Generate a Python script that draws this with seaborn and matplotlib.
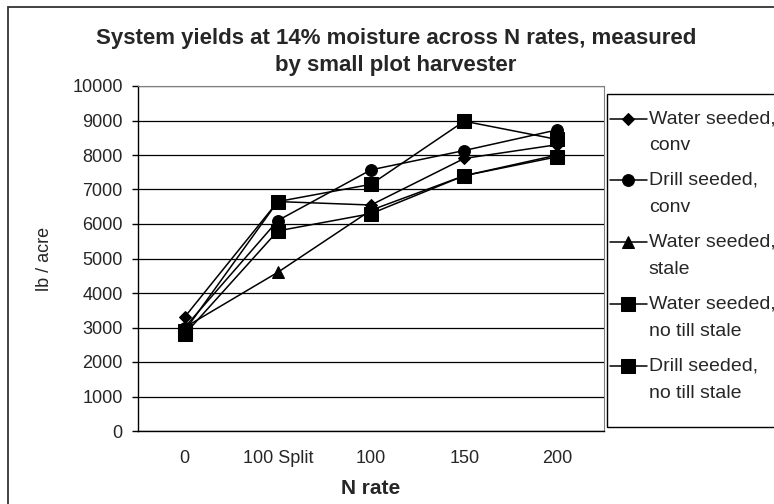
import numpy as np
import pandas as pd
import seaborn as sns
import matplotlib.pyplot as plt
from matplotlib.patches import Rectangle
from matplotlib.legend_handler import HandlerLine2D

# chart values
n_rates = ['0', '100 Split', '100', '150', '200']
water_conv = [3300, 6650, 6550, 7900, 8300]
drill_conv = [3000, 6100, 7570, 8130, 8730]
water_stale = [3000, 4600, 6400, 7400, 8000]
water_notill = [2800, 5800, 6300, 7400, 7950]
drill_notill = [2900, 6650, 7150, 8980, 8450]

series_names = ['Water seeded,\nconv', 'Drill seeded,\nconv', 'Water seeded,\nstale',
                'Water seeded,\nno till stale', 'Drill seeded,\nno till stale']
series_vals = [water_conv, drill_conv, water_stale, water_notill, drill_notill]
markers = ['D', 'o', '^', 's', 's']
msizes = [6.5, 8.5, 8.5, 10.5, 10.5]

rows = []
for name, vals in zip(series_names, series_vals):
    for i, v in enumerate(vals):
        rows.append({'series': name, 'pos': i, 'yield': v})
df = pd.DataFrame(rows)


class FirstLineHandler(HandlerLine2D):
    # put the legend marker beside the first line of a two-line label
    def __init__(self, shift, **kw):
        super().__init__(**kw)
        self.shift = shift

    def create_artists(self, legend, orig_handle, xdescent, ydescent, width, height, fontsize, trans):
        arts = super().create_artists(legend, orig_handle, xdescent, ydescent, width, height, fontsize, trans)
        for a in arts:
            a.set_ydata(np.asarray(a.get_ydata()) + self.shift)
        return arts


sns.set_style('white')
plt.rcParams['font.family'] = ['Liberation Sans', 'DejaVu Sans']

fig = plt.figure(figsize=(7.74, 5.04), dpi=100)
ax = fig.add_axes([138 / 774, 1 - 431 / 504, (604 - 138) / 774, (431 - 86) / 504])

for name, m, ms in zip(series_names, markers, msizes):
    sns.lineplot(data=df[df['series'] == name], x='pos', y='yield', ax=ax,
                 color='black', marker=m, markersize=ms, markeredgecolor='black',
                 linewidth=1.1, label=name)

ax.set_xlim(-0.5, 4.5)
ax.set_ylim(0, 10000)
ax.set_yticks(range(0, 10001, 1000))
ax.set_yticklabels([str(v) for v in range(0, 10001, 1000)], fontsize=13)
ax.set_xticks(range(len(n_rates)))
ax.set_xticklabels(n_rates, fontsize=13)
ax.set_xticks([i - 0.5 for i in range(len(n_rates) + 1)], minor=True)
ax.tick_params(axis='x', which='major', length=0, pad=14)
ax.tick_params(axis='x', which='minor', length=4, width=1, color='black', direction='out')
ax.tick_params(axis='y', length=4, width=1, color='black', direction='out', left=True, pad=7)
ax.yaxis.grid(True, color='black', linewidth=0.9)
ax.set_axisbelow(True)

for side in ['top', 'right']:
    ax.spines[side].set_color('#808080')
for side in ['left', 'bottom']:
    ax.spines[side].set_color('black')
    ax.spines[side].set_linewidth(1)

ax.set_xlabel('N rate', fontsize=15, fontweight='bold', labelpad=8)
ax.set_ylabel('lb / acre', fontsize=13, labelpad=14)

fig.text(396 / 774, 1 - 28 / 504,
         'System yields at 14% moisture across N rates, measured\nby small plot harvester',
         ha='center', va='top', fontsize=16, fontweight='bold', linespacing=1.38)

# legend without its own frame; the box is drawn separately so it can run off the edge
handles, labels = ax.get_legend_handles_labels()
leg = ax.legend(handles, labels, loc='upper left', bbox_to_anchor=(610 / 774, 1 - 110 / 504),
                bbox_transform=fig.transFigure, fontsize=14, frameon=False,
                borderpad=0, labelspacing=0.9, handlelength=1.9, handletextpad=0.1,
                borderaxespad=0,
                handler_map={h: FirstLineHandler(shift=9.6) for h in handles})
for t in leg.get_texts():
    t.set_linespacing(1.8)

fig.patches.append(Rectangle((607 / 774, 1 - 427 / 504), 0.5, (427 - 94) / 504,
                             transform=fig.transFigure, fill=False, edgecolor='black',
                             linewidth=1))
fig.patches.append(Rectangle((8 / 774, -0.1), 1, 1 - 7 / 504 + 0.1, transform=fig.transFigure,
                             fill=False, edgecolor='#333333', linewidth=1.3))

fig.savefig('out.png', dpi=100)
